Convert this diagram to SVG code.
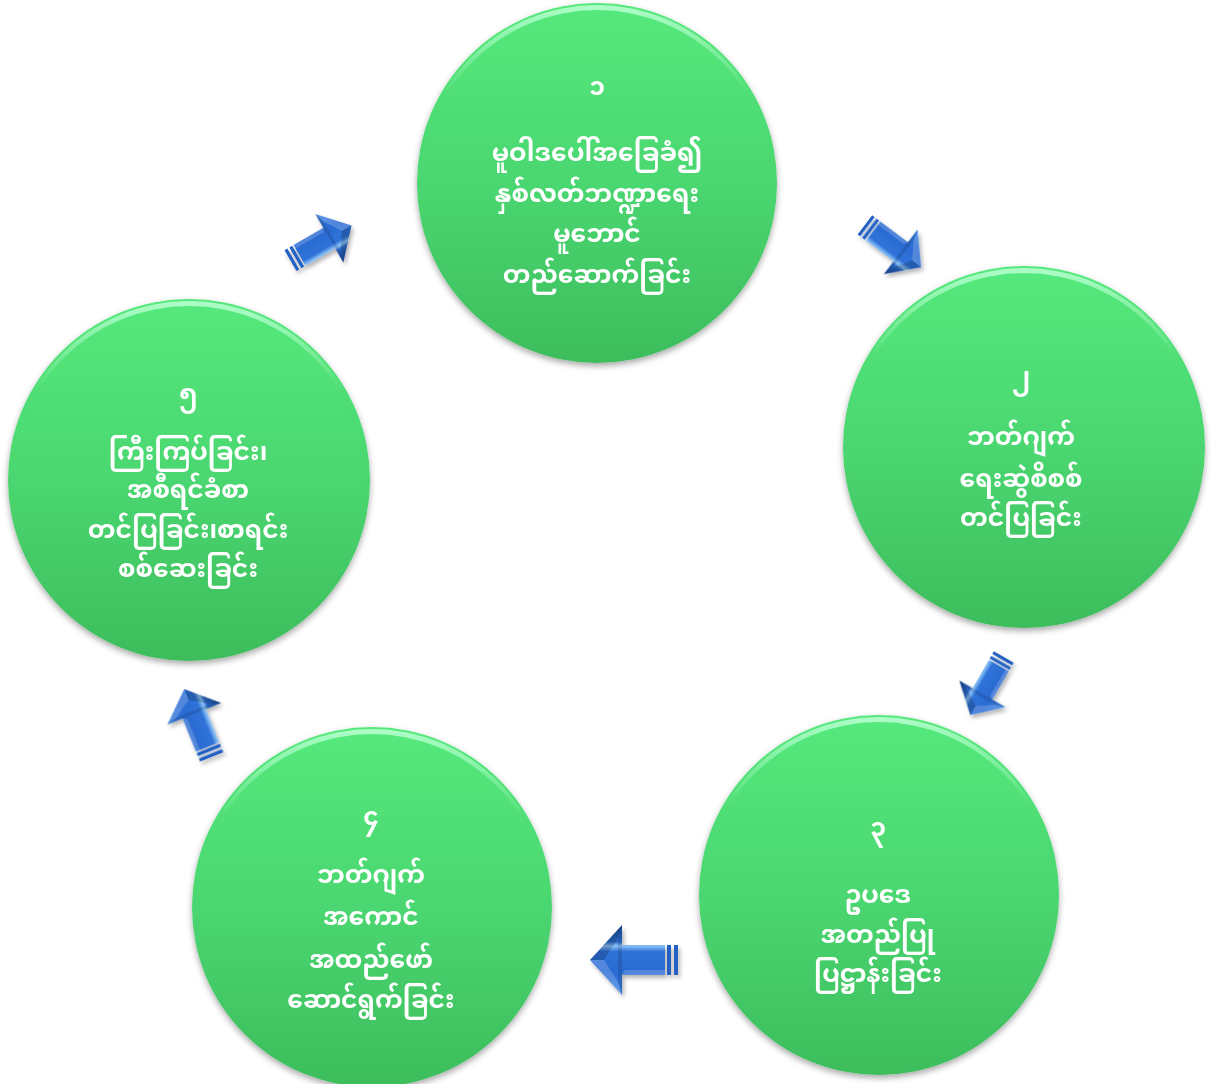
<svg xmlns="http://www.w3.org/2000/svg" width="1212" height="1084" viewBox="0 0 1212 1084">
<defs>
<linearGradient id="gc" x1="0" y1="0" x2="0" y2="1">
<stop offset="0" stop-color="#55e87c"/>
<stop offset="0.5" stop-color="#4ad670"/>
<stop offset="1" stop-color="#3dbd5c"/>
</linearGradient>
<linearGradient id="rim" x1="0" y1="0" x2="0" y2="1">
<stop offset="0" stop-color="#b8ffd0" stop-opacity="0.9"/>
<stop offset="0.25" stop-color="#b8ffd0" stop-opacity="0"/>
<stop offset="1" stop-color="#b8ffd0" stop-opacity="0"/>
</linearGradient>
<linearGradient id="ga" gradientUnits="userSpaceOnUse" x1="0" y1="-35" x2="0" y2="35">
<stop offset="0" stop-color="#3d82e2"/>
<stop offset="0.35" stop-color="#2a6bd2"/>
<stop offset="0.62" stop-color="#2f72d8"/>
<stop offset="0.7" stop-color="#8cc3f7"/>
<stop offset="0.76" stop-color="#2e6bcc"/>
<stop offset="1" stop-color="#1c4d9c"/>
</linearGradient>
<filter id="sh" x="-10%" y="-10%" width="120%" height="125%">
<feDropShadow dx="0" dy="3" stdDeviation="3" flood-color="#000" flood-opacity="0.35"/>
</filter>
<filter id="ash" x="-30%" y="-30%" width="160%" height="160%">
<feDropShadow dx="2" dy="3" stdDeviation="2" flood-color="#000" flood-opacity="0.3"/>
</filter>
<g id="arrow">
<rect x="-44" y="-15" width="4" height="30" fill="#2460c4"/>
<rect x="-37" y="-15" width="4" height="30" fill="#2460c4"/>
<path d="M -31,-15 L 12,-15 L 12,-35 L 44,0 L 12,35 L 12,15 L -31,15 Z" fill="url(#ga)"/>
<path d="M -31,-15 L 12,-15 L 9,-10 L -31,-10 Z" fill="#ffffff" fill-opacity="0.18"/>
<path d="M 12,-35 L 44,0 L 30,0 L 16,-22 Z" fill="#ffffff" fill-opacity="0.18"/>
<path d="M 12,35 L 44,0 L 30,0 L 16,22 Z" fill="#000000" fill-opacity="0.18"/>
<path d="M 12,-35 L 16,-22 L 16,22 L 12,35 Z" fill="#000000" fill-opacity="0.12"/>
</g>
</defs>
<style>
.c { fill: url(#gc); filter: url(#sh); }
.r { fill: url(#rim); }
.t { font-family: "Noto Sans Myanmar", "Padauk", "Myanmar Text", "Noto Sans", sans-serif; font-size: 25px; font-weight: bold; fill: #ffffff; text-anchor: middle; }
</style>
<rect width="1212" height="1084" fill="#ffffff"/>
<g id="connectors" filter="url(#ash)">
<use href="#arrow" transform="translate(321,243) rotate(-30) scale(0.8)"/>
<use href="#arrow" transform="translate(893,246) rotate(37) scale(0.8)"/>
<use href="#arrow" transform="translate(987,686) rotate(120) scale(0.76)"/>
<use href="#arrow" transform="translate(634,960) rotate(180)"/>
<use href="#arrow" transform="translate(198,723) rotate(-112) scale(0.83)"/>
</g>
<g id="node1">
<circle class="c" cx="597" cy="183" r="180"/>
<circle class="r" cx="597" cy="183" r="178"/>
<circle cx="597" cy="186" r="176" fill="url(#gc)"/>
<text class="t" x="597" y="95">၁</text>
<text class="t" x="597" y="161">မူဝါဒပေါ်အခြေခံ၍</text>
<text class="t" x="597" y="202">နှစ်လတ်ဘဏ္ဍာရေး</text>
<text class="t" x="597" y="242">မူဘောင်</text>
<text class="t" x="597" y="283">တည်ဆောက်ခြင်း</text>
</g>
<g id="node2">
<circle class="c" cx="1024" cy="447" r="181"/>
<circle class="r" cx="1024" cy="447" r="179"/>
<circle cx="1024" cy="450" r="177" fill="url(#gc)"/>
<text class="t" x="1021" y="385">၂</text>
<text class="t" x="1021" y="445">ဘတ်ဂျက်</text>
<text class="t" x="1021" y="487">ရေးဆွဲစိစစ်</text>
<text class="t" x="1021" y="526">တင်ပြခြင်း</text>
</g>
<g id="node3">
<circle class="c" cx="879" cy="895" r="180"/>
<circle class="r" cx="879" cy="895" r="178"/>
<circle cx="879" cy="898" r="176" fill="url(#gc)"/>
<text class="t" x="878" y="836">၃</text>
<text class="t" x="878" y="903">ဥပဒေ</text>
<text class="t" x="878" y="943">အတည်ပြု</text>
<text class="t" x="878" y="982">ပြဋ္ဌာန်းခြင်း</text>
</g>
<g id="node4">
<circle class="c" cx="372" cy="907" r="180"/>
<circle class="r" cx="372" cy="907" r="178"/>
<circle cx="372" cy="910" r="176" fill="url(#gc)"/>
<text class="t" x="371" y="825">၄</text>
<text class="t" x="371" y="883">ဘတ်ဂျက်</text>
<text class="t" x="371" y="925">အကောင်</text>
<text class="t" x="371" y="968">အထည်ဖော်</text>
<text class="t" x="371" y="1008">ဆောင်ရွက်ခြင်း</text>
</g>
<g id="node5">
<circle class="c" cx="189" cy="480" r="181"/>
<circle class="r" cx="189" cy="480" r="179"/>
<circle cx="189" cy="483" r="177" fill="url(#gc)"/>
<text class="t" x="188" y="402">၅</text>
<text class="t" x="188" y="460">ကြီးကြပ်ခြင်း၊</text>
<text class="t" x="188" y="498">အစီရင်ခံစာ</text>
<text class="t" x="188" y="538">တင်ပြခြင်း၊စာရင်း</text>
<text class="t" x="188" y="577">စစ်ဆေးခြင်း</text>
</g>
</svg>
